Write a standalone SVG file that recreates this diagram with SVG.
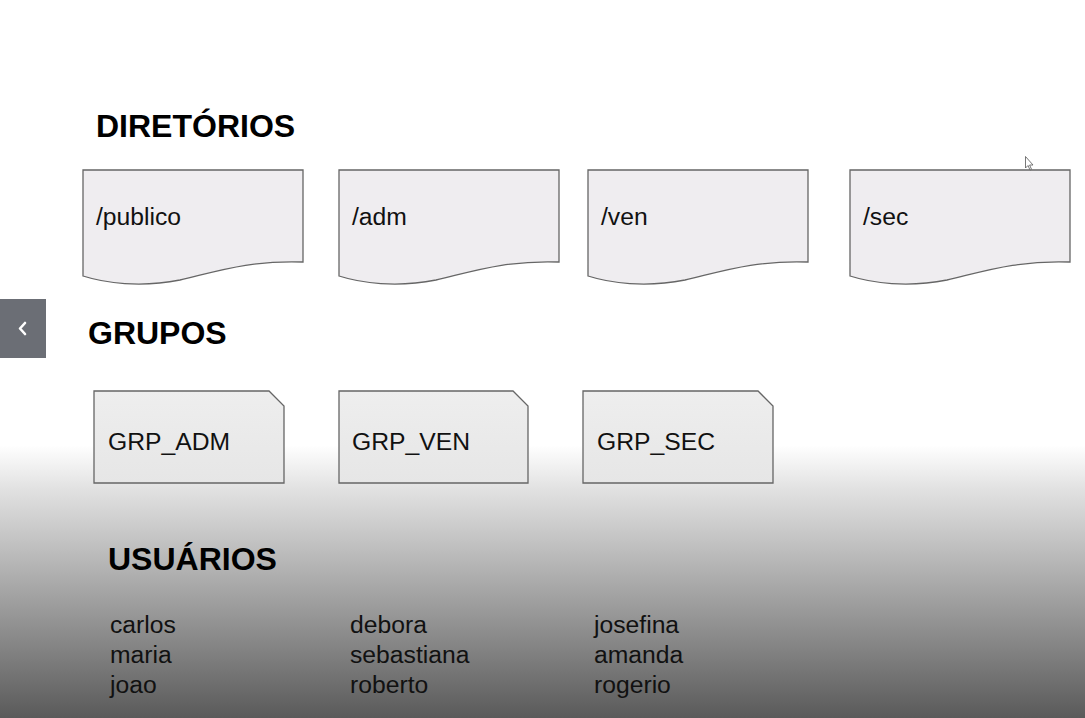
<svg xmlns="http://www.w3.org/2000/svg" width="1085" height="718" viewBox="0 0 1085 718">
<defs>
<linearGradient id="bg" x1="0" y1="0" x2="0" y2="718" gradientUnits="userSpaceOnUse">
<stop offset="0" stop-color="#ffffff"/>
<stop offset="0.62" stop-color="#ffffff"/>
<stop offset="0.68" stop-color="#e2e2e2"/>
<stop offset="1" stop-color="#5a5a5a"/>
</linearGradient>
<linearGradient id="grp" x1="0" y1="0" x2="0" y2="1">
<stop offset="0" stop-color="#eeeeee"/>
<stop offset="1" stop-color="#e6e6e6"/>
</linearGradient>
<style>
.hdr{font-family:"Liberation Sans",Arial,sans-serif;font-weight:bold;font-size:32px;fill:#000}
.lbl{font-family:"Liberation Sans",Arial,sans-serif;font-size:24.7px;fill:#111}
.doc{fill:#efedf0;stroke:#666;stroke-width:1.3}
.grp{fill:url(#grp);stroke:#666;stroke-width:1.3}
</style>
</defs>
<rect width="1085" height="718" fill="url(#bg)"/>

<text class="hdr" x="96" y="137">DIRETÓRIOS</text>
<text class="hdr" x="88" y="344">GRUPOS</text>
<text class="hdr" x="108" y="570">USUÁRIOS</text>

<g id="dir-publico">
<path class="doc" d="M83,170 H303 V262 C250,260 215,272 180,280 C140,288 105,283 83,276 Z"/>
<text class="lbl" x="96" y="225">/publico</text>
</g>
<g id="dir-adm">
<path class="doc" d="M339,170 H559 V262 C506,260 471,272 436,280 C396,288 361,283 339,276 Z"/>
<text class="lbl" x="352" y="225">/adm</text>
</g>
<g id="dir-ven">
<path class="doc" d="M588,170 H808 V262 C755,260 720,272 685,280 C645,288 610,283 588,276 Z"/>
<text class="lbl" x="601" y="225">/ven</text>
</g>
<g id="dir-sec">
<path class="doc" d="M850,170 H1070 V262 C1017,260 982,272 947,280 C907,288 872,283 850,276 Z"/>
<text class="lbl" x="863" y="225">/sec</text>
</g>

<g id="grp-adm">
<path class="grp" d="M94,391 H269 L284,406 V483 H94 Z"/>
<text class="lbl" x="108" y="450">GRP_ADM</text>
</g>
<g id="grp-ven">
<path class="grp" d="M339,391 H513 L528,406 V483 H339 Z"/>
<text class="lbl" x="352" y="450">GRP_VEN</text>
</g>
<g id="grp-sec">
<path class="grp" d="M583,391 H758 L773,406 V483 H583 Z"/>
<text class="lbl" x="597" y="450">GRP_SEC</text>
</g>

<g id="users">
<text class="lbl" x="110" y="633">carlos</text>
<text class="lbl" x="110" y="663">maria</text>
<text class="lbl" x="110" y="693">joao</text>
<text class="lbl" x="350" y="633">debora</text>
<text class="lbl" x="350" y="663">sebastiana</text>
<text class="lbl" x="350" y="693">roberto</text>
<text class="lbl" x="594" y="633">josefina</text>
<text class="lbl" x="594" y="663">amanda</text>
<text class="lbl" x="594" y="693">rogerio</text>
</g>

<g id="connectors"></g>

<g id="nav-button">
<rect x="0" y="299" width="46" height="59" fill="#6b6e75"/>
<path d="M25,323 L20,328.5 L25,334" fill="none" stroke="#fff" stroke-width="2.6" stroke-linecap="round" stroke-linejoin="round"/>
</g>

<path d="M1025.5,156.5 V168 L1028,165.5 L1030,170 L1031.5,169.3 L1029.6,165 L1033,165 Z" fill="#fff" stroke="#555" stroke-width="0.8"/>
</svg>
